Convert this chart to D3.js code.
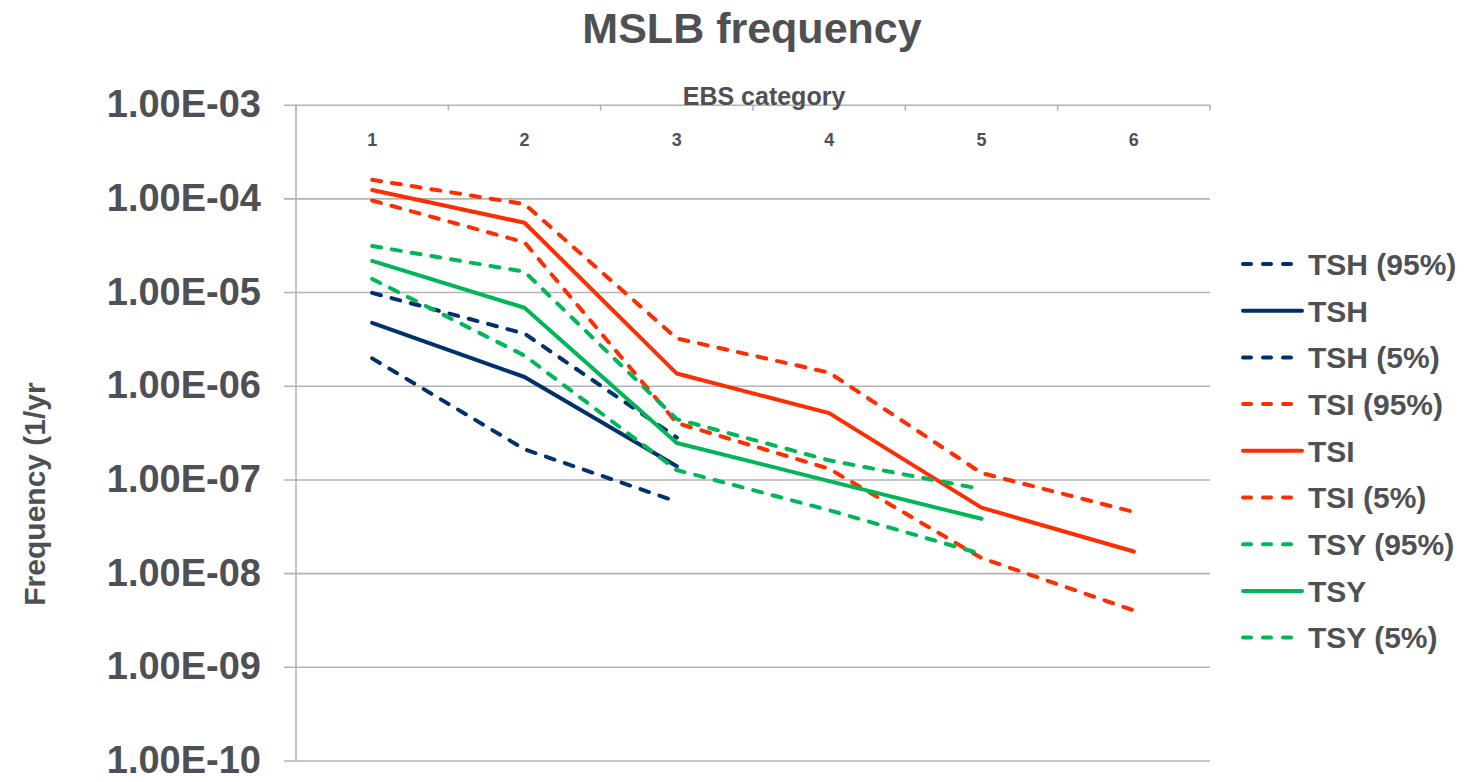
<!DOCTYPE html>
<html lang="en">
<head>
<meta charset="UTF-8">
<title>MSLB frequency</title>
<script src="https://cdnjs.cloudflare.com/ajax/libs/d3/7.8.5/d3.min.js"></script>
<style>
  body { margin: 0; background: #fff; }
  text { font-family: "Liberation Sans", Arial, sans-serif; font-weight: bold; fill: #4f5054; }
</style>
</head>
<body>
<div id="chart"></div>
<script>
// EBS categories
var categories = [1, 2, 3, 4, 5, 6];

// frequency values per category (null = no point)
var tsh95 = [9.8e-6, 3.6e-6, 2.8e-7, null, null, null];
var tsh   = [4.7e-6, 1.24e-6, 1.38e-7, null, null, null];
var tsh5  = [1.96e-6, 2.1e-7, 5.8e-8, null, null, null];
var tsi95 = [1.58e-4, 8.7e-5, 3.2e-6, 1.38e-6, 1.17e-7, 4.5e-8];
var tsi   = [1.23e-4, 5.5e-5, 1.35e-6, 5.1e-7, 5.0e-8, 1.7e-8];
var tsi5  = [9.5e-5, 3.4e-5, 4.0e-7, 1.3e-7, 1.45e-8, 4.0e-9];
var tsy95 = [3.1e-5, 1.65e-5, 4.4e-7, 1.6e-7, 7.9e-8, null];
var tsy   = [2.15e-5, 6.8e-6, 2.45e-7, 9.6e-8, 3.8e-8, null];
var tsy5  = [1.38e-5, 2.1e-6, 1.26e-7, 4.7e-8, 1.6e-8, null];

var yTicks = [1e-3, 1e-4, 1e-5, 1e-6, 1e-7, 1e-8, 1e-9, 1e-10];

var navy = "#00306e", red = "#ff2d00", green = "#00b658";

var series = [
  { name: "TSH (95%)", values: tsh95, color: navy, dashed: true },
  { name: "TSH", values: tsh, color: navy, dashed: false },
  { name: "TSH (5%)", values: tsh5, color: navy, dashed: true },
  { name: "TSI (95%)", values: tsi95, color: red, dashed: true },
  { name: "TSI", values: tsi, color: red, dashed: false },
  { name: "TSI (5%)", values: tsi5, color: red, dashed: true },
  { name: "TSY (95%)", values: tsy95, color: green, dashed: true },
  { name: "TSY", values: tsy, color: green, dashed: false },
  { name: "TSY (5%)", values: tsy5, color: green, dashed: true }
];

var w = 1464, h = 782;
var plotLeft = 296, plotRight = 1210, plotTop = 104.7, plotBottom = 760.5;
var gridColor = "#b3b3b3";
var dash = "9,11";

var svg = d3.select("#chart").append("svg")
  .attr("width", w)
  .attr("height", h);

var x = d3.scaleBand().domain(categories).range([plotLeft, plotRight]).padding(0);
var y = d3.scaleLog().domain([1e-3, 1e-10]).range([plotTop, plotBottom]);

function sciFormat(d) {
  var e = Math.round(Math.log10(d));
  var s = Math.abs(e) < 10 ? "0" + Math.abs(e) : "" + Math.abs(e);
  return "1.00E" + (e < 0 ? "-" : "+") + s;
}

// gridlines + y labels
var yAxis = svg.append("g")
  .attr("transform", "translate(284,0)")
  .call(d3.axisLeft(y).tickValues(yTicks).tickFormat(sciFormat)
    .tickSizeInner(-(plotRight - 284)).tickSizeOuter(0).tickPadding(23));
yAxis.select(".domain").remove();
yAxis.selectAll(".tick line").attr("stroke", gridColor).attr("stroke-width", 1.6);
yAxis.selectAll(".tick text")
  .attr("font-size", "38px")
  .attr("fill", "#4f5054")
  .attr("font-family", "Liberation Sans, Arial, sans-serif")
  .attr("font-weight", "bold");

// vertical axis line
svg.append("line")
  .attr("x1", plotLeft).attr("x2", plotLeft)
  .attr("y1", plotTop).attr("y2", plotBottom)
  .attr("stroke", gridColor).attr("stroke-width", 1.6);

// category axis on top (labels below the line)
var xAxis = svg.append("g")
  .attr("transform", "translate(0," + plotTop + ")")
  .call(d3.axisBottom(x).tickSize(0).tickPadding(29));
xAxis.select(".domain").remove();
xAxis.selectAll(".tick text")
  .attr("font-size", "18px")
  .attr("fill", "#4f5054")
  .attr("font-family", "Liberation Sans, Arial, sans-serif")
  .attr("font-weight", "bold");

// category boundary ticks
var bounds = categories.map(function(c) { return x(c); }).concat([plotRight]);
svg.selectAll(".btick").data(bounds).enter().append("line")
  .attr("class", "btick")
  .attr("x1", function(d) { return d; }).attr("x2", function(d) { return d; })
  .attr("y1", plotTop).attr("y2", plotTop + 6)
  .attr("stroke", gridColor).attr("stroke-width", 1.6);

// lines
var line = d3.line()
  .defined(function(d) { return d.v != null; })
  .x(function(d) { return x(d.c) + x.bandwidth() / 2; })
  .y(function(d) { return y(d.v); });

svg.selectAll(".series").data(series).enter().append("path")
  .attr("class", "series")
  .attr("d", function(s) {
    return line(s.values.map(function(v, i) { return { c: categories[i], v: v }; }));
  })
  .attr("fill", "none")
  .attr("stroke", function(s) { return s.color; })
  .attr("stroke-width", 4)
  .attr("stroke-linecap", "round")
  .attr("stroke-linejoin", "round")
  .attr("stroke-dasharray", function(s) { return s.dashed ? dash : null; });

// titles
svg.append("text")
  .attr("x", 752).attr("y", 43)
  .attr("text-anchor", "middle")
  .attr("font-size", "43px")
  .text("MSLB frequency");

svg.append("text")
  .attr("x", 764).attr("y", 105)
  .attr("text-anchor", "middle")
  .attr("font-size", "25px")
  .text("EBS category");

svg.append("text")
  .attr("transform", "translate(45,494) rotate(-90)")
  .attr("text-anchor", "middle")
  .attr("font-size", "30px")
  .text("Frequency (1/yr");

// legend
var legend = svg.selectAll(".legend").data(series).enter().append("g")
  .attr("class", "legend")
  .attr("transform", function(d, i) { return "translate(1243," + (264 + i * 46.7) + ")"; });

legend.append("line")
  .attr("x1", 0).attr("x2", 59)
  .attr("stroke", function(s) { return s.color; })
  .attr("stroke-width", 4)
  .attr("stroke-linecap", "round")
  .attr("stroke-dasharray", function(s) { return s.dashed ? "8,12" : null; });

legend.append("text")
  .attr("x", 65)
  .attr("dy", "0.36em")
  .attr("font-size", "30px")
  .text(function(s) { return s.name; });
</script>
</body>
</html>
